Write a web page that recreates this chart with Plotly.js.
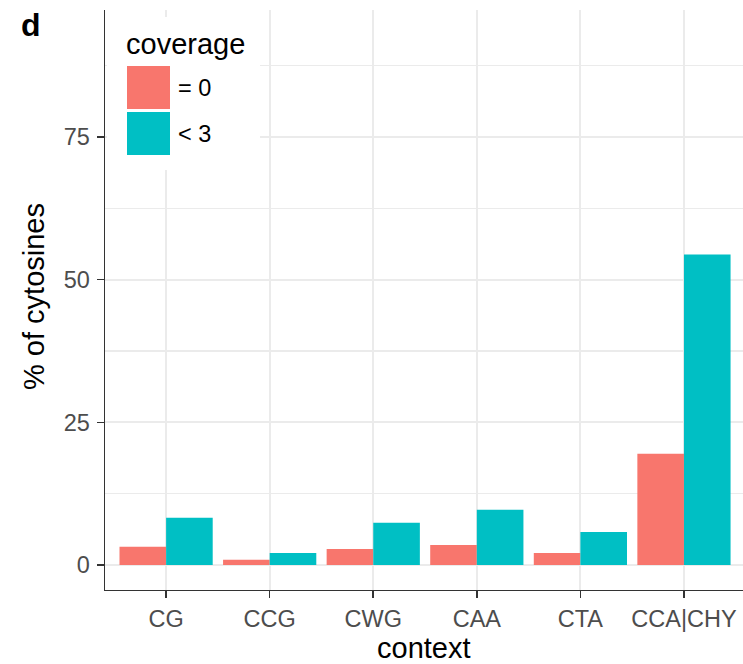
<!DOCTYPE html>
<html>
<head>
<meta charset="utf-8">
<script src="https://cdn.plot.ly/plotly-3.0.1.min.js"></script>
<style>html,body{margin:0;padding:0;background:#fff;}#chart{width:743px;height:664px;}</style>
</head>
<body>
<div id="chart"></div>
<script>
var contexts = ["CG", "CCG", "CWG", "CAA", "CTA", "CCA|CHY"];
var coverageZero = [3.2, 0.9, 2.8, 3.5, 2.1, 19.5];
var coverageLt3 = [8.3, 2.1, 7.4, 9.7, 5.8, 54.4];
var seriesNames = ["= 0", "< 3"];
var seriesColors = ["#F8766D", "#00BFC4"];
var yTicks = [0, 25, 50, 75];

var font = "Liberation Sans, Arial, Helvetica, sans-serif";

var traces = [
  {type: "bar", x: contexts, y: coverageZero, name: seriesNames[0], marker: {color: seriesColors[0]}, hoverinfo: "x+y"},
  {type: "bar", x: contexts, y: coverageLt3, name: seriesNames[1], marker: {color: seriesColors[1]}, hoverinfo: "x+y"}
];

var W = 638, H = 580; // plot area px
function px(x){ return (x - 105) / W; }
function py(y){ return (590 - y) / H; }

var layout = {
  width: 743, height: 664,
  margin: {l: 105, r: 0, t: 10, b: 74},
  paper_bgcolor: "#ffffff",
  plot_bgcolor: "#ffffff",
  barmode: "group",
  bargap: 0.1,
  bargroupgap: 0,
  showlegend: false,
  font: {family: font},
  xaxis: {
    type: "category",
    range: [-0.59, 5.57],
    showgrid: true, gridcolor: "#EBEBEB", gridwidth: 2.2,
    showline: true, linecolor: "#333333", linewidth: 1.4,
    ticks: "outside", ticklen: 7, tickcolor: "#333333", tickwidth: 1.6,
    tickfont: {family: font, size: 23.5, color: "#4D4D4D"},
    ticklabelstandoff: 0,
    zeroline: false
  },
  yaxis: {
    range: [-4.38, 97.25],
    tickvals: yTicks,
    ticktext: yTicks.map(String),
    showgrid: true, gridcolor: "#EBEBEB", gridwidth: 2.2,
    minor: {dtick: 12.5, tick0: 0, showgrid: true, gridcolor: "#EBEBEB", gridwidth: 1.1, ticks: ""},
    showline: true, linecolor: "#333333", linewidth: 1.4,
    ticks: "outside", ticklen: 7, tickcolor: "#333333", tickwidth: 1.6,
    tickfont: {family: font, size: 23.5, color: "#4D4D4D"},
    ticklabelstandoff: 2,
    zeroline: false
  },
  shapes: [
    {type: "rect", xref: "paper", yref: "paper", x0: px(107), x1: px(260), y0: py(170), y1: py(17), fillcolor: "#ffffff", line: {width: 0}, layer: "above"},
    {type: "rect", xref: "paper", yref: "paper", x0: px(127), x1: px(170), y0: py(109), y1: py(66), fillcolor: seriesColors[0], line: {width: 0}, layer: "above"},
    {type: "rect", xref: "paper", yref: "paper", x0: px(127), x1: px(170), y0: py(155), y1: py(112), fillcolor: seriesColors[1], line: {width: 0}, layer: "above"}
  ],
  annotations: [
    {text: "<b>d</b>", xref: "paper", yref: "paper", x: px(19), y: py(25), xanchor: "left", yanchor: "middle", showarrow: false, font: {family: font, size: 32, color: "#000"}},
    {text: "coverage", xref: "paper", yref: "paper", x: px(124), y: py(44), xanchor: "left", yanchor: "middle", showarrow: false, font: {family: font, size: 29, color: "#000"}},
    {text: seriesNames[0], xref: "paper", yref: "paper", x: px(176), y: py(88), xanchor: "left", yanchor: "middle", showarrow: false, font: {family: font, size: 23.5, color: "#000"}},
    {text: seriesNames[1], xref: "paper", yref: "paper", x: px(176), y: py(134), xanchor: "left", yanchor: "middle", showarrow: false, font: {family: font, size: 23.5, color: "#000"}},
    {text: "% of cytosines", xref: "paper", yref: "paper", x: px(34), y: py(297), xanchor: "center", yanchor: "middle", textangle: -90, showarrow: false, font: {family: font, size: 29, color: "#000"}},
    {text: "context", xref: "paper", yref: "paper", x: px(424), y: py(648), xanchor: "center", yanchor: "middle", showarrow: false, font: {family: font, size: 29, color: "#000"}}
  ]
};

Plotly.newPlot("chart", traces, layout, {displayModeBar: false, staticPlot: true});
</script>
</body>
</html>
